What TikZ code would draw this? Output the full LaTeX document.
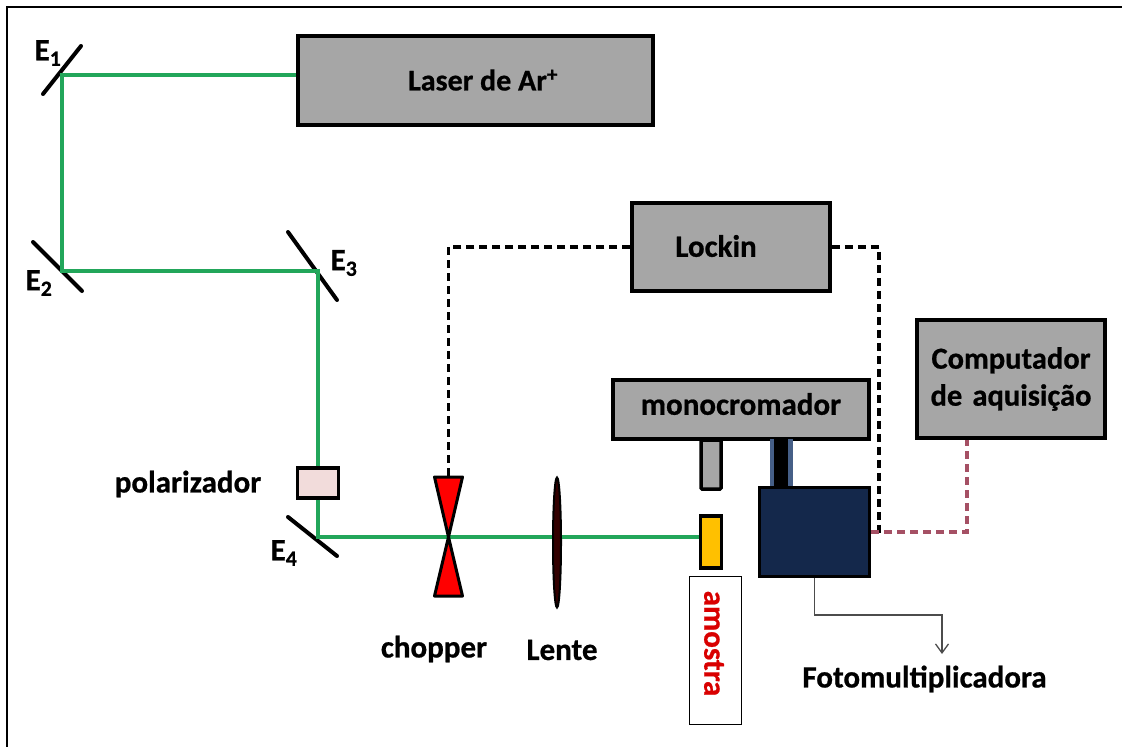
\documentclass[tikz,border=0pt]{standalone}
\usepackage{fontspec}
\setmainfont{Carlito}[BoldFeatures={FakeBold=0.7}]
\usetikzlibrary{shapes,arrows.meta,positioning,calc}
\definecolor{boxcolor}{RGB}{166,166,166}
\definecolor{beamcolor}{RGB}{34,166,90}
\definecolor{pmtcolor}{RGB}{20,40,75}
\definecolor{tubecolor}{RGB}{70,95,135}
\definecolor{polcolor}{RGB}{242,220,219}
\definecolor{samplecolor}{RGB}{255,192,0}
\definecolor{linkcolor}{RGB}{165,80,100}

\begin{document}
\begin{tikzpicture}[x=1pt, y=-1pt,
    box/.style={rectangle, draw, line width=3.5pt, fill=boxcolor, inner sep=0pt, text centered, font=\fontsize{30.5}{37}\selectfont\bfseries},
    label/.style={inner sep=0pt, font=\fontsize{31}{37}\selectfont\bfseries},
    beam/.style={beamcolor, line width=3.5pt},
    mirror/.style={line width=4pt, line cap=round},
    signal/.style={line width=3.2pt, dash pattern=on 8pt off 5pt},
    arrow/.style={-{Straight Barb[width=13pt,length=9pt]}, line width=1.3pt}
]
\useasboundingbox (0,0) rectangle (1122,747);

% Frame
\draw[line width=1.5pt] (7,747) -- (7,7) -- (1122,7);

% Boxes
\node[box, minimum width=355pt, minimum height=89pt] (laser) at (475.5,80.5) {};
\node[label, font=\fontsize{30}{37}\selectfont\bfseries] (laserlabel) at (483,80) {Laser de Ar\textsuperscript{+}};
\node[box, minimum width=198pt, minimum height=88pt] (lockin) at (731,247) {};
\node[label] (lockinlabel) at (716,246) {Lockin};
\node[box, minimum width=188pt, minimum height=118pt, text width=180pt, align=center] (pc) at (1011,379) {Computador\\de aquisição};
\node[box, minimum width=256pt, minimum height=59pt] (mono) at (741,409.5) {};
\node[label] (monolabel) at (741,404) {monocromador};

% Optics
\node[box, rounded corners=1pt, minimum width=20pt, minimum height=49pt] (slit) at (711,464.5) {};
\node[rectangle, fill=tubecolor, inner sep=0pt, minimum width=23pt, minimum height=49pt] (tube) at (781,463.5) {};
\node[rectangle, fill=black, inner sep=0pt, minimum width=14pt, minimum height=49pt] (tubecore) at (781,463.5) {};
\node[box, fill=pmtcolor, minimum width=110pt, minimum height=89pt] (pmt) at (814.5,532) {};
\node[box, fill=samplecolor, minimum width=21pt, minimum height=52pt] (sample) at (711,542) {};
\node[box, fill=polcolor, minimum width=41pt, minimum height=30pt] (pol) at (318,483) {};
\node[draw, thick, fill=white, inner sep=0pt, minimum width=52pt, minimum height=148pt] (samplebox) at (715,650) {};
\node[label, text=red!85!black, rotate=-90] (samplelabel) at (714,643.5) {amostra};

% Mirrors
\coordinate (e1) at (62,75);
\coordinate (e2) at (62,271);
\coordinate (e3) at (318,271);
\coordinate (e4) at (318,537);
\draw[mirror] (43,94) -- (81,46);
\draw[mirror] (33,242) -- (82,291);
\draw[mirror] (288,232) -- (337,300);
\draw[mirror] (288,517) -- (337,556);

% Beam
\draw[beam, line join=miter] (laser.west |- e1) -- (e1) -- (e2) -- (e3) -- (pol.north);
\draw[beam] (pol.south) -- (e4) -- (sample.west |- e4);

% Chopper and lens
\coordinate (chop) at (448.5,477);
\coordinate (chopmid) at (448.5,537);
\draw[line width=3pt, line join=round, fill=red] (434.5,477) -- (462.5,477) -- (chopmid) -- cycle;
\draw[line width=3pt, line join=round, fill=red] (434.5,596) -- (462.5,596) -- (chopmid) -- cycle;
\node[ellipse, draw, line width=2pt, fill=black!80!red, inner sep=0pt, minimum width=8pt, minimum height=130pt] (lens) at (557,542.5) {};

% Signals
\coordinate (drop) at (879,537);
\draw[signal] (lockin.west) -| (chop);
\draw[signal] (lockin.east) -| (drop);
\draw[signal, linkcolor] (pmt.east) -| (pc.south -| 967,439);

% Output arrow
\coordinate (tip) at (942,654);
\draw[arrow, black!70] (pmt.south) |- (942,615) -- (tip);

% Labels
\node[label] (e1label) at (48,53) {E\textsubscript{1}};
\node[label] (e2label) at (39,283) {E\textsubscript{2}};
\node[label] (e3label) at (344,263) {E\textsubscript{3}};
\node[label] (e4label) at (284,553) {E\textsubscript{4}};
\node[label] (pollabel) at (188,484) {polarizador};
\node[label] (choplabel) at (434,649) {chopper};
\node[label] (lenslabel) at (562,650) {Lente};
\node[label] (pmtlabel) at (924.5,679) {Fotomultiplicadora};

\end{tikzpicture}
\end{document}
